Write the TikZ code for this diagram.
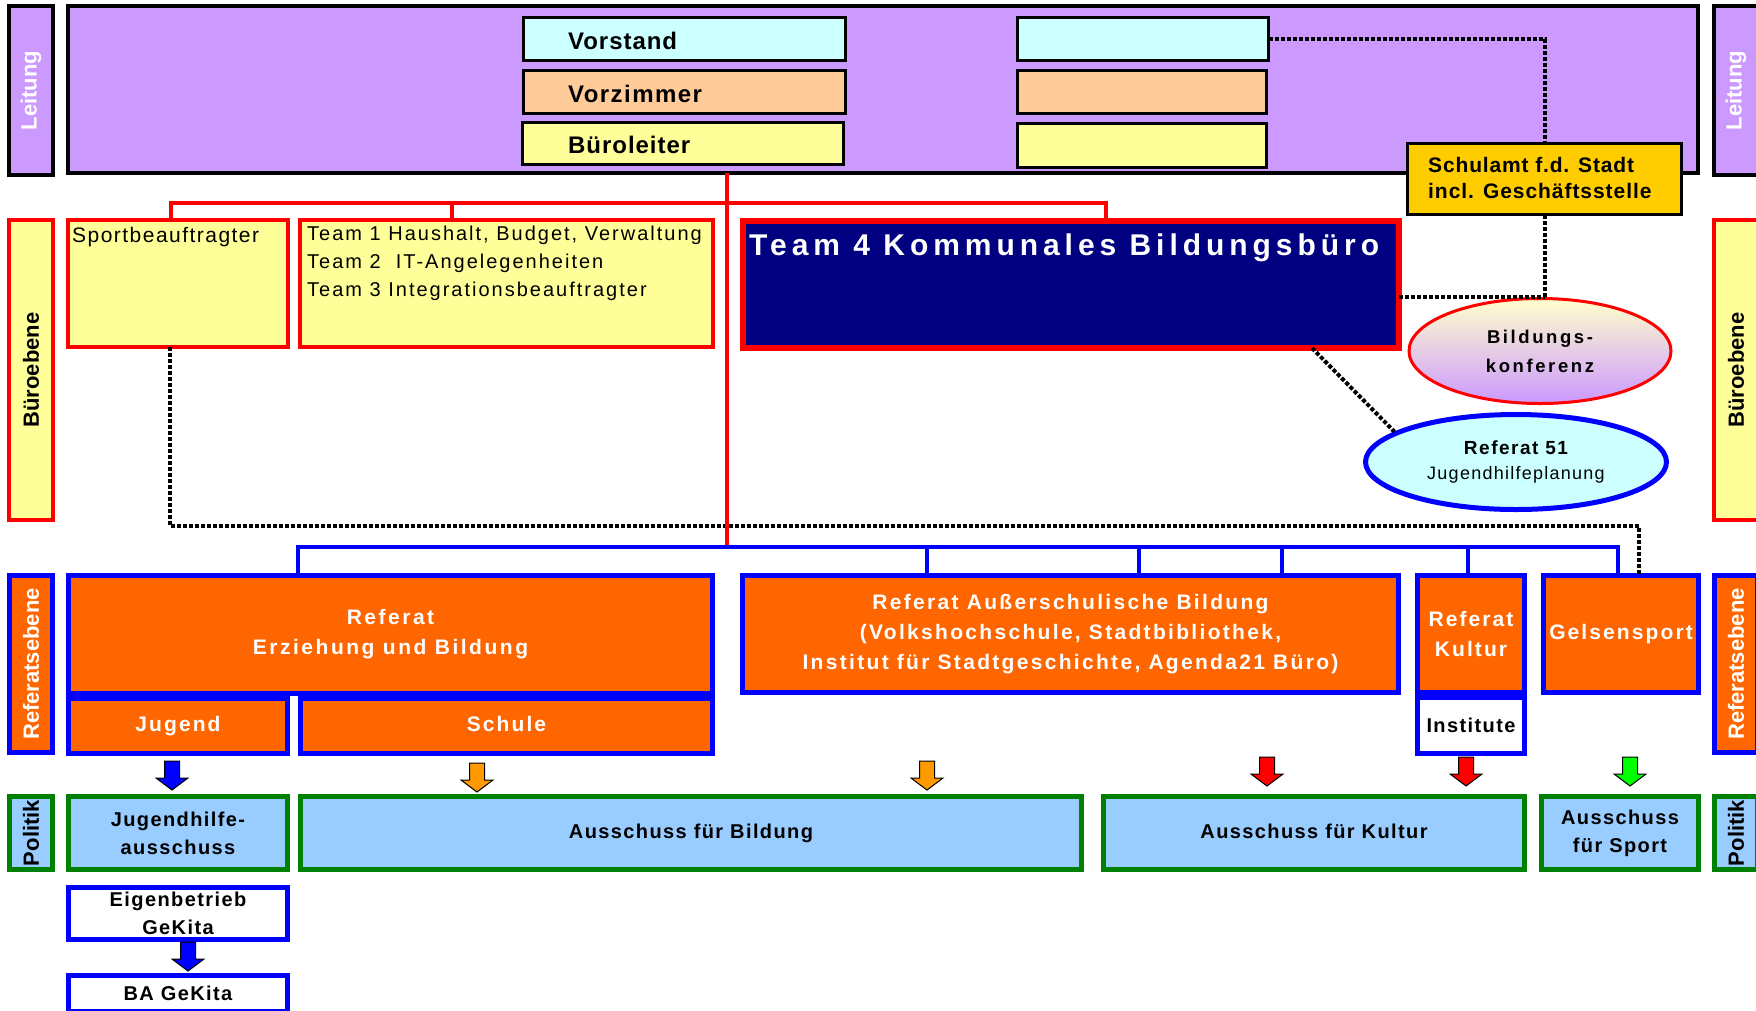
\documentclass[tikz,border=0pt]{standalone}
\usepackage{fontspec}
\setmainfont{Liberation Sans}
\usetikzlibrary{shapes.geometric}
\definecolor{cPurple}{HTML}{CC99FF}
\definecolor{cCyan}{HTML}{CCFFFF}
\definecolor{cPeach}{HTML}{FFCC99}
\definecolor{cYellow}{HTML}{FFFF99}
\definecolor{cGold}{HTML}{FFCC00}
\definecolor{cNavy}{HTML}{000080}
\definecolor{cRed}{HTML}{FF0000}
\definecolor{cBlue}{HTML}{0000FF}
\definecolor{cOrange}{HTML}{FF6600}
\definecolor{cLBlue}{HTML}{99CCFF}
\definecolor{cGreen}{HTML}{008000}
\definecolor{cAOrange}{HTML}{FF9900}
\definecolor{cAGreen}{HTML}{00FF00}
\definecolor{cBkTop}{HTML}{FFFFCC}
\newcommand\fnt[3]{\fontsize{#1}{#2}\selectfont\addfontfeatures{LetterSpace=#3}}
\newcommand\bx[8]{\node[#1, line width=#2pt, minimum width={#5-#3-#2}, minimum height={#6-#4-#2}] (#7) at ({(#3+#5)/2},{(#4+#6)/2}) {#8};}
\tikzset{
  base/.style={rectangle, inner sep=0pt, outer sep=0pt, align=center},
  leitbox/.style={base, draw=black, fill=cPurple},
  topbox/.style={base, draw=black},
  officebox/.style={base, draw=cRed, fill=cYellow},
  refbox/.style={base, draw=cBlue, fill=cOrange, text=white, font=\bfseries\fnt{21}{30}{10}},
  whitebox/.style={base, draw=cBlue, fill=white, font=\bfseries\fnt{20}{28}{7}},
  polbox/.style={base, draw=cGreen, fill=cLBlue, font=\bfseries\fnt{20}{28}{7}},
  sidelbl/.style={base, rotate=90, font=\bfseries\fontsize{22}{26}\selectfont},
  txt/.style={inner sep=0pt, anchor=base west},
  redln/.style={draw=cRed, line width=4pt},
  blueln/.style={draw=cBlue, line width=4pt},
  dotln/.style={draw=black, line width=4pt, dash pattern=on 4pt off 2pt},
  darrow/.pic={\draw[fill=#1, line width=1pt, line join=miter] (-7.5,0) -- (7.5,0) -- (7.5,17) -- (16,17) -- (0,29) -- (-16,17) -- (-7.5,17) -- cycle;},
}
\begin{document}
\begin{tikzpicture}[x=1pt,y=-1pt]
\useasboundingbox (0,0) rectangle (1756,1010);
\clip (0,0) rectangle (1756,1010);
\fill[white] (0,0) rectangle (1756,1010);

% side labels
\node[sidelbl, draw=black, line width=4pt, fill=cPurple, text=white, minimum width=169, minimum height=44] (lLeit) at (31,90.5) {Leitung};
\node[sidelbl, draw=black, line width=4pt, fill=cPurple, text=white, minimum width=169, minimum height=44] (rLeit) at (1736,90.5) {Leitung};
\node[sidelbl, draw=cRed, line width=4pt, fill=cYellow, minimum width=300, minimum height=44] (lBuero) at (31,370) {Büroebene};
\node[sidelbl, draw=cRed, line width=4pt, fill=cYellow, minimum width=300, minimum height=44] (rBuero) at (1736,370) {Büroebene};
\node[sidelbl, draw=cBlue, line width=5pt, fill=cOrange, text=white, minimum width=177, minimum height=43] (lRef) at (31,664) {Referatsebene};
\node[sidelbl, draw=cBlue, line width=5pt, fill=cOrange, text=white, minimum width=177, minimum height=43] (rRef) at (1736,664) {Referatsebene};
\node[sidelbl, draw=cGreen, line width=5pt, fill=cLBlue, minimum width=73, minimum height=43] (lPol) at (31,833) {Politik};
\node[sidelbl, draw=cGreen, line width=5pt, fill=cLBlue, minimum width=73, minimum height=43] (rPol) at (1736,833) {Politik};

% Leitung
\bx{leitbox}{4}{66}{4}{1700}{175}{leit}{}
\bx{topbox, fill=cCyan}{3}{522}{16}{847}{62}{vor}{}
\bx{topbox, fill=cPeach}{3}{522}{69}{847}{115}{vzi}{}
\bx{topbox, fill=cYellow}{3}{521}{121}{845}{166}{bl}{}
\bx{topbox, fill=cCyan}{3}{1016}{16}{1270}{62}{vr1}{}
\bx{topbox, fill=cPeach}{3}{1016}{69}{1268}{115}{vr2}{}
\bx{topbox, fill=cYellow}{3}{1016}{122}{1268}{169}{vr3}{}
\bx{topbox, fill=cGold}{3}{1406}{142}{1683}{216}{schul}{}

% Bueroebene
\bx{officebox}{4}{66}{218}{290}{349}{sport}{}
\bx{officebox}{4}{298}{218}{715}{349}{teams}{}
\bx{officebox, fill=cNavy}{6}{740}{218}{1402}{351}{team4}{}
\node[ellipse, draw=cRed, line width=3pt, top color=cBkTop, bottom color=cPurple, minimum width=262, minimum height=105, inner sep=0pt, align=center, font=\bfseries\fnt{18.5}{29}{14}] (bk) at (1540,351) {Bildungs-\\konferenz};
\node[ellipse, draw=cBlue, line width=5pt, fill=cCyan, minimum width=301, minimum height=95, inner sep=0pt, align=center, font=\fnt{18}{25}{7}] (r51) at (1516,462) {{\bfseries\fnt{19}{25}{8}Referat 51}\\Jugendhilfeplanung};

% Referatsebene
\bx{refbox, font=\bfseries\fnt{21}{30}{12}}{5}{66}{573}{715}{696}{eb}{Referat\\Erziehung und Bildung}
\bx{refbox}{5}{66}{696}{290}{756}{jug}{Jugend}
\bx{refbox}{5}{298}{696}{715}{756}{sch}{Schule\vphantom{g}}
\bx{refbox, font=\bfseries\fnt{21}{30}{11}}{5}{740}{573}{1401}{695}{aus}{Referat Außerschulische Bildung\\(Volkshochschule, Stadtbibliothek,\\Institut für Stadtgeschichte, Agenda21 Büro)}
\bx{refbox}{5}{1415}{573}{1527}{695}{kult}{Referat\\Kultur}
\bx{whitebox}{5}{1415}{695}{1527}{756}{inst}{Institute}
\bx{refbox}{5}{1541}{573}{1701}{695}{gels}{Gelsensport}

% Politik
\bx{polbox}{5}{66}{794}{290}{872}{jha}{Jugendhilfe-\\ausschuss}
\bx{polbox}{5}{298}{794}{1084}{872}{afb}{Ausschuss für Bildung}
\bx{polbox}{5}{1101}{794}{1527}{872}{afk}{Ausschuss für Kultur\vphantom{g}}
\bx{polbox}{5}{1539}{794}{1701}{872}{afs}{Ausschuss\\für Sport}
\bx{whitebox}{5}{66}{885}{290}{942}{eig}{Eigenbetrieb\\GeKita}
\bx{whitebox}{5}{66}{973}{290}{1014}{ba}{BA GeKita}

% texts
\node[txt, font=\bfseries\fnt{24}{28}{4}] (tvor) at (568,49) {Vorstand};
\node[txt, font=\bfseries\fnt{24}{28}{6}] (tvzi) at (568,102) {Vorzimmer};
\node[txt, font=\bfseries\fnt{24}{28}{4}] (tbl) at (568,153) {Büroleiter};
\node[txt, font=\bfseries\fnt{21}{26}{4}] (tsch1) at (1428,172) {Schulamt f.d. Stadt};
\node[txt, font=\bfseries\fnt{21}{26}{4.5}] (tsch2) at (1428,198) {incl. Geschäftsstelle};
\node[txt, text=white, font=\bfseries\fnt{30}{34}{16.5}] (tt4) at (749,255) {Team 4 Kommunales Bildungsbüro};
\node[txt, font=\fnt{21}{26}{7}] (tsp) at (72,242) {Sportbeauftragter};
\node[txt, font=\fnt{20}{26}{10}] (tt1) at (307,240) {Team 1 Haushalt, Budget, Verwaltung};
\node[txt, font=\fnt{20}{26}{10}] (tt2) at (307,268) {Team 2\ \ IT-Angelegenheiten};
\node[txt, font=\fnt{20}{26}{10}] (tt3) at (307,296) {Team 3 Integrationsbeauftragter};

% dotted connectors
\draw[dotln] (sport.south -| 170,0) -- (170,526) -- (1639,526) -- (gels.north -| 1639,0);
\draw[dotln] (vr1.east) -- (vr1.east -| schul.north) -- (schul.north);
\draw[dotln] (schul.south) -- (schul.south |- bk.north);
\draw[dotln] (team4.east |- bk.north) -- (schul.south |- bk.north);
\draw[dotln] (team4.south -| 1312,0) -- (r51.166);

% red connectors
\draw[redln] (leit.south -| 727,0) -- (727,547);
\draw[redln] (sport.north -| 171,0) -- (171,203) -- (1106,203) -- (team4.north -| 1106,0);
\draw[redln] (452,203) -- (teams.north -| 452,0);

% blue connectors
\draw[blueln] (eb.north -| 298,0) -- (298,547) -- (1618,547) -- (gels.north -| 1618,0);
\foreach \x in {927,1139,1282} \draw[blueln] (\x,547) -- (aus.north -| \x,0);
\draw[blueln] (1468,547) -- (kult.north -| 1468,0);

% block arrows
\pic (ar1) at (172,761) {darrow=cBlue};
\pic (ar2) at (477,763) {darrow=cAOrange};
\pic (ar3) at (927,761) {darrow=cAOrange};
\pic (ar4) at (1267,757) {darrow=cRed};
\pic (ar5) at (1466,757) {darrow=cRed};
\pic (ar6) at (1630,757) {darrow=cAGreen};
\pic (ar7) at (188,942) {darrow=cBlue};
\end{tikzpicture}
\end{document}
